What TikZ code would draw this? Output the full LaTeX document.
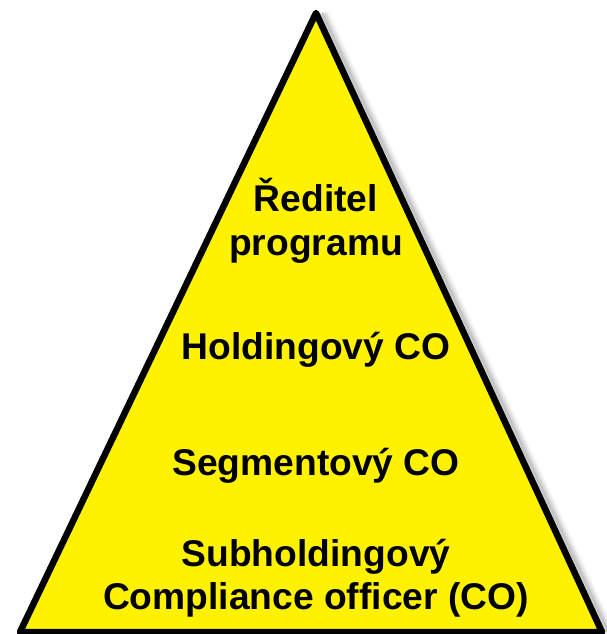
\documentclass[tikz,border=0pt]{standalone}
\usepackage{fontspec}
\setmainfont{Liberation Sans}
\begin{document}
\begin{tikzpicture}[x=1pt,y=-1pt,
  lbl/.style={font=\fontsize{37.2}{43.5}\selectfont\bfseries, align=center, text=black, inner sep=0pt},
  shadowline/.style={draw=black, line width=#1, line join=round}]
\useasboundingbox (0,0) rectangle (606,634);
\coordinate (apex) at (316,13);
\coordinate (bl) at (20,632);
\coordinate (br) at (602,632);
% soft shadow on the right
\foreach \d/\o in {10/0.04,8/0.06,6/0.08,4/0.1}{
  \draw[black, opacity=\o, line width=6pt, line join=round] ([xshift=\d]apex) -- ([xshift=\d]br);
}
\filldraw[fill=yellow, draw=black, line width=6.5pt, line join=round] (apex) -- (br) -- (bl) -- cycle;
\node[lbl] (dir) at (316,221) {Ředitel\\programu};
\node[lbl] (hold) at (316,350) {Holdingový CO};
\node[lbl] (seg) at (316,466) {Segmentový CO};
\node[lbl] (sub) at (316,578) {Subholdingový\\Compliance officer (CO)};
\end{tikzpicture}
\end{document}
